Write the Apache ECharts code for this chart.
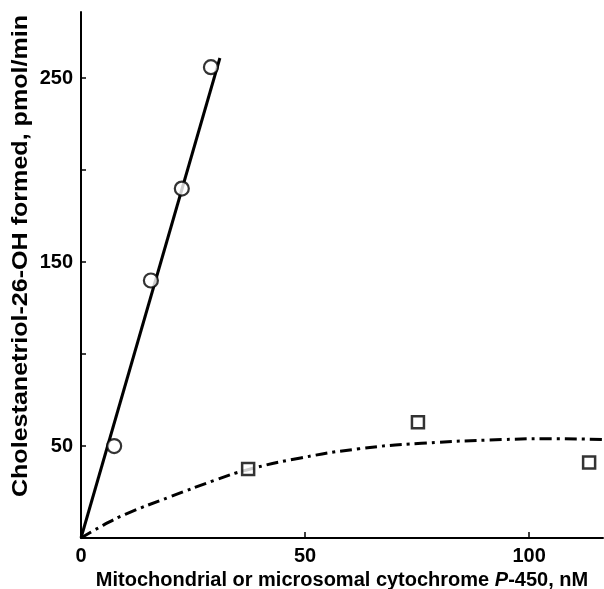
<!DOCTYPE html>
<html>
<head>
<meta charset="utf-8">
<script src="https://cdn.jsdelivr.net/npm/echarts@6/dist/echarts.min.js"></script>
<style>
  html, body { margin: 0; padding: 0; background: #fff; }
  #chart { width: 604px; height: 589px; }
</style>
</head>
<body>
<div id="chart"></div>
<script>
// mitochondrial P-450 (circles) and fitted line
const mitoX = [7.4, 15.6, 22.5, 29.0];
const mitoY = [50, 140, 190, 256];
const mitoLine = [[0, 0], [31, 261]];

// microsomal P-450 (squares) and dash-dot curve
const microX = [37.3, 75.2, 113.4];
const microY = [37.5, 63, 41];
const curveX = [0, 5, 10, 20, 30, 37, 49, 62, 76, 94, 105, 117];
const curveY = [0, 7, 13, 22.5, 31.5, 37, 43.5, 48.5, 51.5, 53.5, 54, 53.5];

const xTicks = [50, 100];
const xLabels = [0, 50, 100];
const yTicks = [50, 100, 150, 200, 250];
const yLabels = [50, 150, 250];

const font = "'Liberation Sans', Arial, sans-serif";
const chart = echarts.init(document.getElementById('chart'));

const option = {
  animation: false,
  grid: { left: 81, top: 12, right: 1, bottom: 51, outerBoundsMode: 'none' },
  xAxis: {
    type: 'value',
    min: 0,
    max: 116.5,
    interval: 50,
    splitLine: { show: false },
    axisLine: { lineStyle: { color: '#000', width: 2 } },
    axisTick: { inside: true, length: 6, customValues: xTicks, lineStyle: { color: '#000', width: 1.5 } },
    axisLabel: {
      customValues: xLabels,
      color: '#000', fontFamily: font, fontWeight: 'bold', fontSize: 20, margin: 8
    },
    name: '{a|Mitochondrial or microsomal cytochrome }{i|P}{a|-450, nM}',
    nameLocation: 'middle',
    nameGap: 31,
    nameTextStyle: {
      rich: {
        a: { fontFamily: font, fontSize: 20, fontWeight: 'bold', color: '#000' },
        i: { fontFamily: font, fontSize: 20, fontWeight: 'bold', fontStyle: 'italic', color: '#000' }
      }
    }
  },
  yAxis: {
    type: 'value',
    min: 0,
    max: 286,
    interval: 50,
    splitLine: { show: false },
    axisLine: { lineStyle: { color: '#000', width: 2 } },
    axisTick: { inside: true, length: 5, customValues: yTicks, lineStyle: { color: '#000', width: 1.5 } },
    axisLabel: {
      customValues: yLabels,
      color: '#000', fontFamily: font, fontWeight: 'bold', fontSize: 20, margin: 8
    }
  },
  graphic: [
    {
      type: 'text',
      x: 21, y: 256,
      rotation: Math.PI / 2,
      scaleX: 1.14,
      style: {
        text: 'Cholestanetriol-26-OH formed, pmol/min',
        fontFamily: font, fontSize: 22, fontWeight: 'bold', fill: '#000',
        align: 'center', verticalAlign: 'middle'
      }
    }
  ],
  series: [
    {
      type: 'line',
      data: mitoLine,
      symbol: 'none',
      lineStyle: { color: '#000', width: 3 },
      z: 2
    },
    {
      type: 'line',
      data: curveX.map((x, i) => [x, curveY[i]]),
      smooth: true,
      symbol: 'none',
      lineStyle: { color: '#000', width: 3, type: [12, 5, 3, 5] },
      z: 2
    },
    {
      type: 'scatter',
      data: mitoX.map((x, i) => [x, mitoY[i]]),
      symbol: 'circle',
      symbolSize: 14,
      itemStyle: { color: '#fff', borderColor: '#000', borderWidth: 2.2 },
      z: 3
    },
    {
      type: 'scatter',
      data: microX.map((x, i) => [x, microY[i]]),
      symbol: 'rect',
      symbolSize: 12,
      itemStyle: { color: '#fff', borderColor: '#000', borderWidth: 2.5 },
      z: 3
    }
  ]
};
chart.setOption(option);
</script>
</body>
</html>
